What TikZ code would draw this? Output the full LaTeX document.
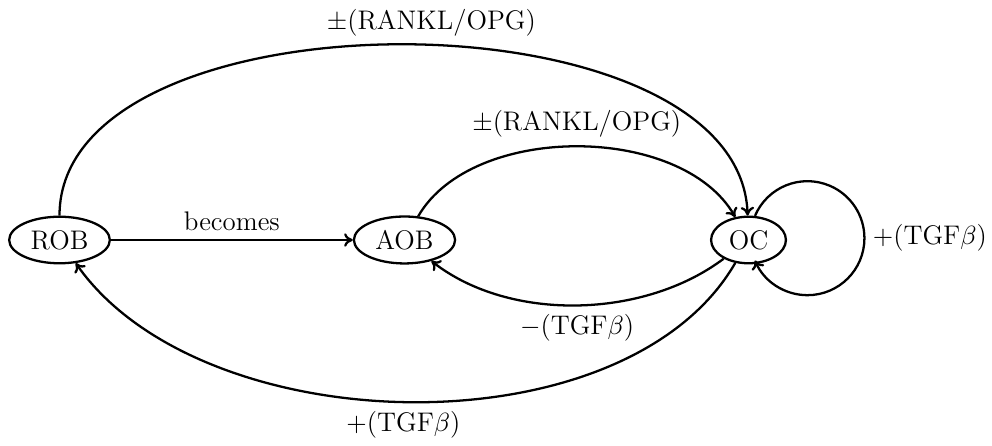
\documentclass[tikz,border=0pt]{standalone}
\usetikzlibrary{shapes.geometric,arrows.meta}
\begin{document}
\begin{tikzpicture}[x=0.4167pt,y=0.4167pt,
  every node/.style={font=\fontsize{11.2}{13.5}\selectfont},
  cell/.style={draw, ellipse, line width=0.95pt, inner sep=2.8pt},
  link/.style={-{To[length=3.6pt,width=5.6pt]}, line width=0.95pt}]
\useasboundingbox (0,0) rectangle (992,446);
% cell populations
\node[cell] (ROB) at (59.5,206) {ROB};
\node[cell] (AOB) at (404.5,206) {AOB};
\node[cell] (OC)  at (748.5,206) {OC};
% interactions
\draw[link] (ROB) -- node[above] {becomes} (AOB);
\draw[link] (ROB) to[out=90,in=92,looseness=0.85]
  node[pos=0.53,above] {$\pm$(RANKL/OPG)} (OC);
\draw[link] (AOB) to[out=60,in=120,looseness=0.87]
  node[above] {$\pm$(RANKL/OPG)} (OC);
\draw[link] (OC) to[out=217,in=-38,looseness=0.87]
  node[below] {$-$(TGF$\beta$)} (AOB);
\draw[link] (OC) to[out=240,in=-55,looseness=0.855]
  node[pos=0.51,below] {$+$(TGF$\beta$)} (ROB);
% self-loop on OC
\draw[link] (OC.75) arc[start angle=157, end angle=0, radius=57]
  coordinate (loopR) arc[start angle=0, end angle=-157, radius=57];
\node[right] (loopLabel) at (loopR) {$+$(TGF$\beta$)};
\end{tikzpicture}
\end{document}
